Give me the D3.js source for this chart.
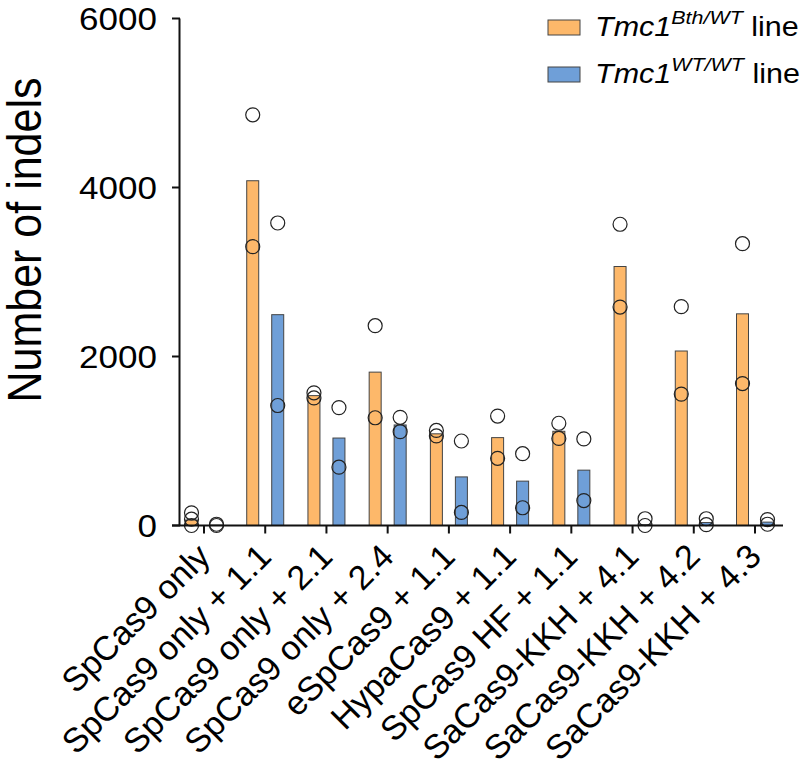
<!DOCTYPE html>
<html><head><meta charset="utf-8">
<script src="https://cdn.jsdelivr.net/npm/d3@7/dist/d3.min.js"></script>
<style>body{margin:0;background:#fff}svg{display:block}text{font-family:Arial,"Liberation Sans",sans-serif;fill:#000}</style>
</head><body><svg id="c" width="800" height="773"></svg>
<script>
const categories = ["SpCas9 only","SpCas9 only + 1.1","SpCas9 only + 2.1","SpCas9 only + 2.4","eSpCas9 + 1.1","HypaCas9 + 1.1","SpCas9 HF + 1.1","SaCas9-KKH + 4.1","SaCas9-KKH + 4.2","SaCas9-KKH + 4.3"];
const bthMeans = [65, 4080, 1537, 1815, 1085, 1040, 1115, 3065, 2065, 2505];
const wtMeans  = [5, 2495, 1035, 1190, 575, 525, 655, 10, 35, 40];
const bthPoints = [[150,75,0],[4860,3300],[1570,1510],[2365,1275],[1125,1060],[1295,795],[1210,1030],[3565,2585],[2590,1555],[3335,1680]];
const wtPoints  = [[15,0],[3580,1420],[1395,690],[1280,1110],[1000,155],[850,210],[1025,295],[80,0],[80,10],[70,15]];
const yTicks = [0, 2000, 4000, 6000];
const seriesNames = [{base:"Tmc1", sup:"Bth/WT", rest:" line"},{base:"Tmc1", sup:"WT/WT", rest:" line"}];
const colors = ["#FDB86A", "#6F9FD8"];

const svg = d3.select("#c");
const SX = 1.13;
const y = d3.scaleLinear().domain([0, 6000]).range([525.5, 18.5]);
const x = d3.scalePoint().domain(categories).range([204, 755]);
const off = 12.5, bw = 12;

// bars
const series = [{means: bthMeans, pts: bthPoints, dx: -off, c: colors[0]},
                {means: wtMeans, pts: wtPoints, dx: off, c: colors[1]}];
series.forEach(s => {
  svg.append("g").selectAll("rect").data(categories).join("rect")
    .attr("x", (d,i) => x(d) + s.dx - bw/2)
    .attr("y", (d,i) => y(s.means[i]))
    .attr("width", bw)
    .attr("height", (d,i) => y(0) - y(s.means[i]))
    .attr("fill", s.c).attr("stroke", "#444").attr("stroke-width", 1);
});
series.forEach(s => {
  const pts = [];
  categories.forEach((d,i) => s.pts[i].forEach(v => pts.push({cx: x(d) + s.dx, v})));
  svg.append("g").selectAll("circle").data(pts).join("circle")
    .attr("cx", p => p.cx).attr("cy", p => y(p.v)).attr("r", 7)
    .attr("fill", "none").attr("stroke", "#222").attr("stroke-width", 1.2);
});

// y axis
const ya = svg.append("g");
ya.append("line").attr("x1", 179.5).attr("x2", 179.5).attr("y1", y(6000)).attr("y2", y(0)).attr("stroke", "#111").attr("stroke-width", 2);
ya.selectAll("line.t").data(yTicks).join("line").attr("class","t")
  .attr("x1", 172).attr("x2", 180).attr("y1", d => y(d)).attr("y2", d => y(d)).attr("stroke", "#111").attr("stroke-width", 2);
ya.selectAll("text").data(yTicks).join("text")
  .attr("transform", d => `translate(157,${y(d)}) scale(${SX},1)`)
  .attr("text-anchor", "end").attr("dy", "0.36em").style("font-size", "31px").text(d => d);

// x axis
const xa = svg.append("g");
xa.append("line").attr("x1", 172).attr("x2", 783).attr("y1", y(0)).attr("y2", y(0)).attr("stroke", "#111").attr("stroke-width", 2);
xa.selectAll("line.t").data(categories).join("line").attr("class","t")
  .attr("x1", d => x(d)).attr("x2", d => x(d)).attr("y1", y(0)).attr("y2", y(0) + 8).attr("stroke", "#111").attr("stroke-width", 2);
xa.selectAll("text").data(categories).join("text")
  .attr("transform", d => `translate(${x(d) + 8},${y(0) + 33}) rotate(-45)`)
  .attr("text-anchor", "end").style("font-size", "34px").text(d => d);

// y title
svg.append("text").attr("transform", `translate(41,240) scale(${SX},1) rotate(-90)`)
  .attr("text-anchor", "middle").style("font-size", "43px").text("Number of indels");

// legend
const lg = svg.append("g");
seriesNames.forEach((s, i) => {
  const yy = 27.5 + i * 47;
  lg.append("rect").attr("x", 548).attr("y", yy - 7.5).attr("width", 32).attr("height", 15)
    .attr("fill", colors[i]).attr("stroke", "#444").attr("stroke-width", 1);
  const t = lg.append("text").attr("transform", `translate(595,${yy + 8}) scale(${SX},1)`).style("font-size", "27px");
  t.append("tspan").style("font-style", "italic").text(s.base);
  t.append("tspan").style("font-style", "italic").style("font-size", "19px").attr("dy", -12).text(s.sup);
  t.append("tspan").attr("dy", 12).text(s.rest);
});
</script></body></html>
